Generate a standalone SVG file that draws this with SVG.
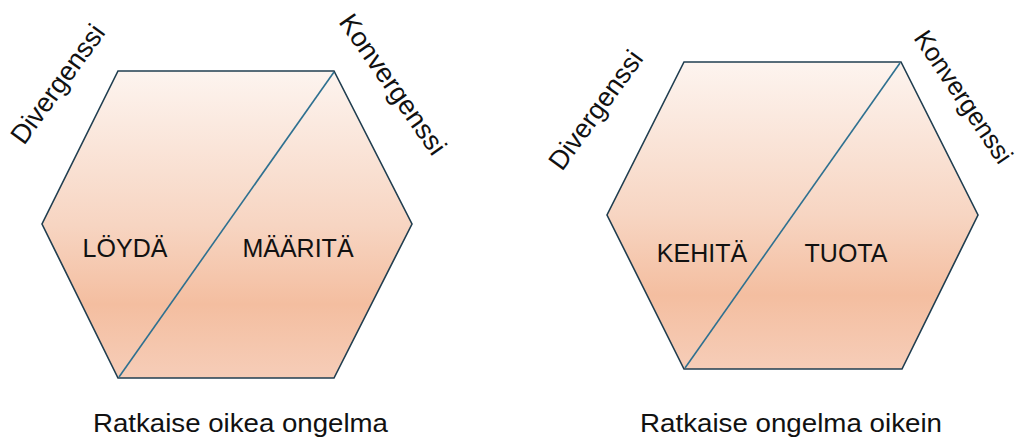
<svg xmlns="http://www.w3.org/2000/svg" width="1025" height="439" viewBox="0 0 1025 439">
<defs>
<linearGradient id="g" x1="0" y1="0" x2="0" y2="1">
<stop offset="0" stop-color="#fdf4ef"/>
<stop offset="0.5" stop-color="#f7d5c2"/>
<stop offset="0.76" stop-color="#f4bea0"/>
<stop offset="1" stop-color="#f6cdb8"/>
</linearGradient>
<style>
.hex{fill:url(#g);stroke:#203e50;stroke-width:1.6;stroke-linejoin:miter}
.diag{stroke:#2e7090;stroke-width:1.6;fill:none}
.t{font-family:"Liberation Sans",Arial,sans-serif;fill:#111;}
.lbl{font-size:25px;text-anchor:middle}
.cap{font-size:26px}
.rot{font-size:27px}
.rot2{font-size:26px}
</style>
</defs>
<rect width="1025" height="439" fill="#ffffff"/>
<g id="hex-left">
<polygon class="hex" points="118,71 334,71 412,224 334,378 118,378 42,224"/>
<text class="t lbl" x="125" y="257">LÖYDÄ</text>
<text class="t lbl" x="298" y="257">MÄÄRITÄ</text>
</g>
<g id="hex-right">
<polygon class="hex" points="684,62 901,62 978,215 902,369 684,369 607,215"/>
<text class="t lbl" x="702" y="262">KEHITÄ</text>
<text class="t lbl" x="846" y="262">TUOTA</text>
</g>
<g id="connectors">
<line class="diag" x1="334" y1="72" x2="119" y2="377"/>
<line class="diag" x1="900" y1="63" x2="685" y2="368"/>
</g>
<g id="labels">
<text class="t rot" transform="translate(24,146) rotate(-54)" textLength="140" lengthAdjust="spacingAndGlyphs">Divergenssi</text>
<text class="t rot" transform="translate(338,22) rotate(55)" textLength="165" lengthAdjust="spacingAndGlyphs">Konvergenssi</text>
<text class="t rot" transform="translate(562,172) rotate(-54)" textLength="140" lengthAdjust="spacingAndGlyphs">Divergenssi</text>
<text class="t rot2" transform="translate(913,38) rotate(56)" textLength="154" lengthAdjust="spacingAndGlyphs">Konvergenssi</text>
<text class="t cap" x="93" y="432" textLength="295" lengthAdjust="spacingAndGlyphs">Ratkaise oikea ongelma</text>
<text class="t cap" x="640" y="432" textLength="302" lengthAdjust="spacingAndGlyphs">Ratkaise ongelma oikein</text>
</g>
</svg>
